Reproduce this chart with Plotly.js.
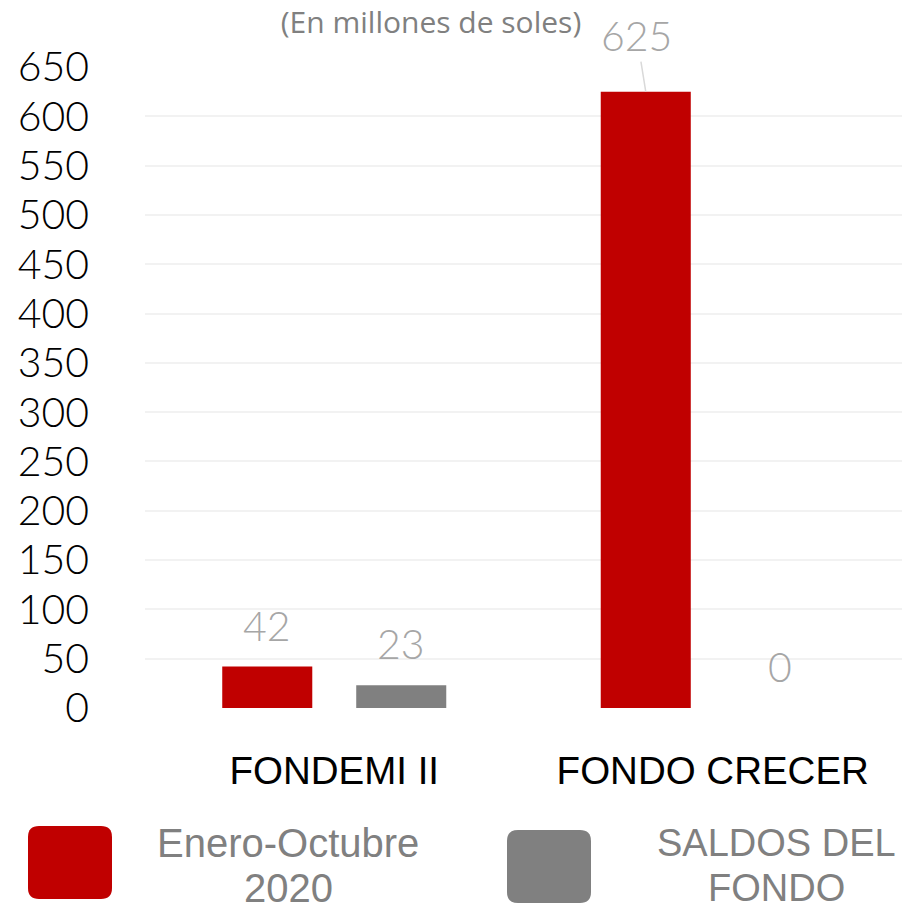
<!DOCTYPE html>
<html>
<head>
<meta charset="utf-8">
<script src="https://cdn.plot.ly/plotly-3.0.1.min.js"></script>
<style>html,body{margin:0;padding:0;background:#fff;}#chart{width:902px;height:909px;}</style>
</head>
<body>
<div id="chart"></div>
<script>
// ---- data ----
const categories = ['FONDEMI II', 'FONDO CRECER'];
const seriesNames = [['Enero-Octubre', '2020'], ['SALDOS DEL', 'FONDO']];
const enero = [42, 625];
const saldos = [23, 0];
const yTicks = [0, 50, 100, 150, 200, 250, 300, 350, 400, 450, 500, 550, 600, 650];
const chartTitle = '(En millones de soles)';

// ---- styles ----
const colors = ['#C00000', '#808080'];
const numFont = 'Lato, "Open Sans", sans-serif';
const textFont = '"Liberation Sans", Arial, sans-serif';
const bargap = 0.292, bargroupgap = 0.328;
const slot = (1 - bargap) / 2;              // width of each bar slot in category units
const offsets = [-slot / 2, slot / 2];      // centre offsets of the two series

const series = [enero, saldos];
const traces = series.map((vals, i) => ({
  type: 'bar',
  x: categories.map((c, k) => k),
  y: vals,
  name: seriesNames[i].join(' '),
  marker: {color: colors[i]},
  showlegend: false,
  hoverinfo: 'skip'
}));

// data labels
const annotations = [];
series.forEach((vals, i) => {
  vals.forEach((v, k) => {
    const big = v > 600;
    annotations.push({
      x: k + offsets[i], y: v, xref: 'x', yref: 'y',
      text: String(v),
      showarrow: big,
      arrowhead: 0, arrowwidth: 1.5, arrowcolor: '#D9D9D9',
      ax: big ? -9 : 0, ay: big ? -56 : 0,
      yanchor: big ? 'middle' : 'bottom',
      yshift: big ? 0 : 15,
      font: {family: numFont, size: 41, color: '#A6A6A6', weight: 300}
    });
  });
});

// legend built from the series names
const plotL = 145, plotT = 67, plotW = 757, plotH = 641;
function px2paperX(p) { return (p - plotL) / plotW; }
function px2paperY(p) { return (plotT + plotH - p) / plotH; }
function roundRect(x0, y0, x1, y1, r) {
  const rx = r / plotW, ry = r / plotH;
  const X0 = px2paperX(x0), X1 = px2paperX(x1), Y0 = px2paperY(y1), Y1 = px2paperY(y0);
  return `M${X0 + rx},${Y0} L${X1 - rx},${Y0} Q${X1},${Y0} ${X1},${Y0 + ry} L${X1},${Y1 - ry} Q${X1},${Y1} ${X1 - rx},${Y1} L${X0 + rx},${Y1} Q${X0},${Y1} ${X0},${Y1 - ry} L${X0},${Y0 + ry} Q${X0},${Y0} ${X0 + rx},${Y0} Z`;
}
const legendBoxes = [[28, 826, 112, 899], [507, 830, 591, 903]];
const legendTextX = [288, 776];
const legendLineY = [843, 888];
const shapes = legendBoxes.map((b, i) => ({
  type: 'path', xref: 'paper', yref: 'paper',
  path: roundRect(b[0], b[1], b[2], b[3], 11),
  fillcolor: colors[i], line: {width: 0}
}));
seriesNames.forEach((lines, i) => {
  lines.forEach((ln, j) => {
    annotations.push({
      xref: 'paper', yref: 'paper',
      x: px2paperX(legendTextX[i]), y: px2paperY(legendLineY[j]),
      xanchor: 'center', yanchor: 'middle',
      text: ln, showarrow: false, align: 'center',
      font: {family: textFont, size: i === 0 ? 40 : 38, color: '#808080'}
    });
  });
});

const layout = {
  width: 902, height: 909,
  margin: {l: plotL, r: 902 - plotL - plotW, t: plotT, b: 909 - plotT - plotH},
  paper_bgcolor: '#fff', plot_bgcolor: '#fff',
  title: {
    text: chartTitle, x: 431 / 902, xanchor: 'center', y: 1 - 22 / 909, yanchor: 'middle',
    font: {family: '"Open Sans", sans-serif', size: 30, color: '#808080'}
  },
  barmode: 'group', bargap: bargap, bargroupgap: bargroupgap,
  xaxis: {
    type: 'linear', range: [-0.5, 1.5],
    tickmode: 'array', tickvals: categories.map((c, k) => k), ticktext: categories,
    showgrid: false, zeroline: false, showline: false, ticks: '',
    ticklabelstandoff: 36,
    tickfont: {family: textFont, size: 38.5, color: '#000'}
  },
  yaxis: {
    range: [0, 650], tickmode: 'array', tickvals: yTicks, ticktext: yTicks.map(String),
    showgrid: true, gridcolor: '#F2F2F2', gridwidth: 2,
    zeroline: false, showline: false, ticks: '',
    ticklabelstandoff: 55,
    tickfont: {family: numFont, size: 41, color: '#000', weight: 300}
  },
  shapes: shapes,
  annotations: annotations,
  showlegend: false
};

Plotly.newPlot('chart', traces, layout, {staticPlot: true, displayModeBar: false});
</script>
</body>
</html>
